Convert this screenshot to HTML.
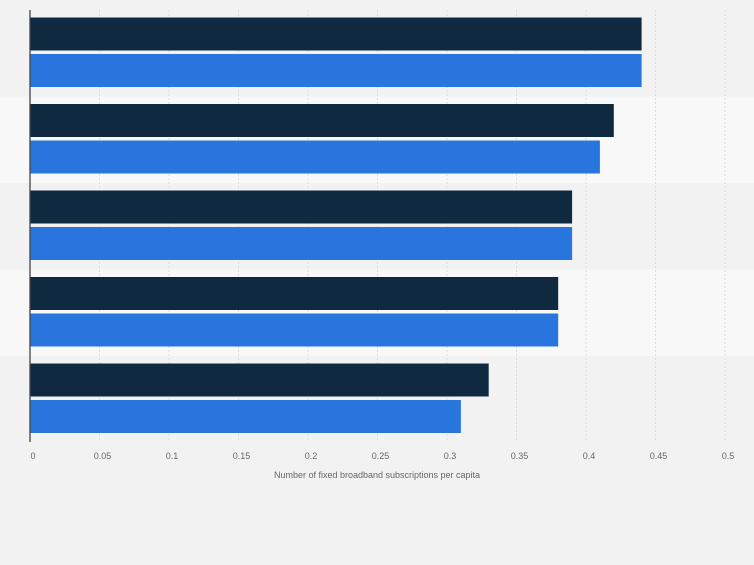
<!DOCTYPE html>
<html><head><meta charset="utf-8"><style>
body{margin:0;background:#f2f2f2;font-family:"Liberation Sans",sans-serif}
</style></head><body>
<svg id="chart" width="754" height="560" xmlns="http://www.w3.org/2000/svg"></svg>
<script>
const categories=["Group 1","Group 2","Group 3","Group 4","Group 5"];
const seriesA=[0.44,0.42,0.39,0.38,0.33];
const seriesB=[0.44,0.41,0.39,0.38,0.31];
const ticks=[0,0.05,0.1,0.15,0.2,0.25,0.3,0.35,0.4,0.45,0.5];
const NS="http://www.w3.org/2000/svg";
const svg=document.getElementById('chart');
const x0=30,x1=725,plotTop=10,band=86.5;
const xs=v=>x0+(v/0.5)*(x1-x0);
function mk(t,a){const e=document.createElementNS(NS,t);for(const k in a)e.setAttribute(k,a[k]);svg.appendChild(e);return e;}
categories.forEach((c,i)=>{if(i%2==1){const r=mk('rect',{x:0,y:plotTop+i*band,width:754,height:band,fill:'#f8f8f8'});

}});
ticks.forEach((t,i)=>{if(i>0){const l=mk('line',{x1:xs(t),x2:xs(t),y1:plotTop,y2:442,stroke:'#dcdcdc','stroke-dasharray':'2,2'});

}
const tx=mk('text',{x:xs(t)+3,y:459,'font-size':9,fill:'#666','text-anchor':'middle'});tx.textContent=t;

});
categories.forEach((c,i)=>{const y=plotTop+i*band;
const a=mk('rect',{x:x0,y:y+7.5,width:xs(seriesA[i])-x0,height:33,fill:'#0f2a40'});


const b=mk('rect',{x:x0,y:y+44,width:xs(seriesB[i])-x0,height:33,fill:'#2876dd'});

});
const ax=mk('line',{x1:x0,x2:x0,y1:plotTop,y2:442,stroke:'#444','stroke-width':1.3});


const ti=mk('text',{x:377,y:478,'font-size':9,fill:'#666','text-anchor':'middle'});ti.textContent='Number of fixed broadband subscriptions per capita';


</script>
</body></html>
